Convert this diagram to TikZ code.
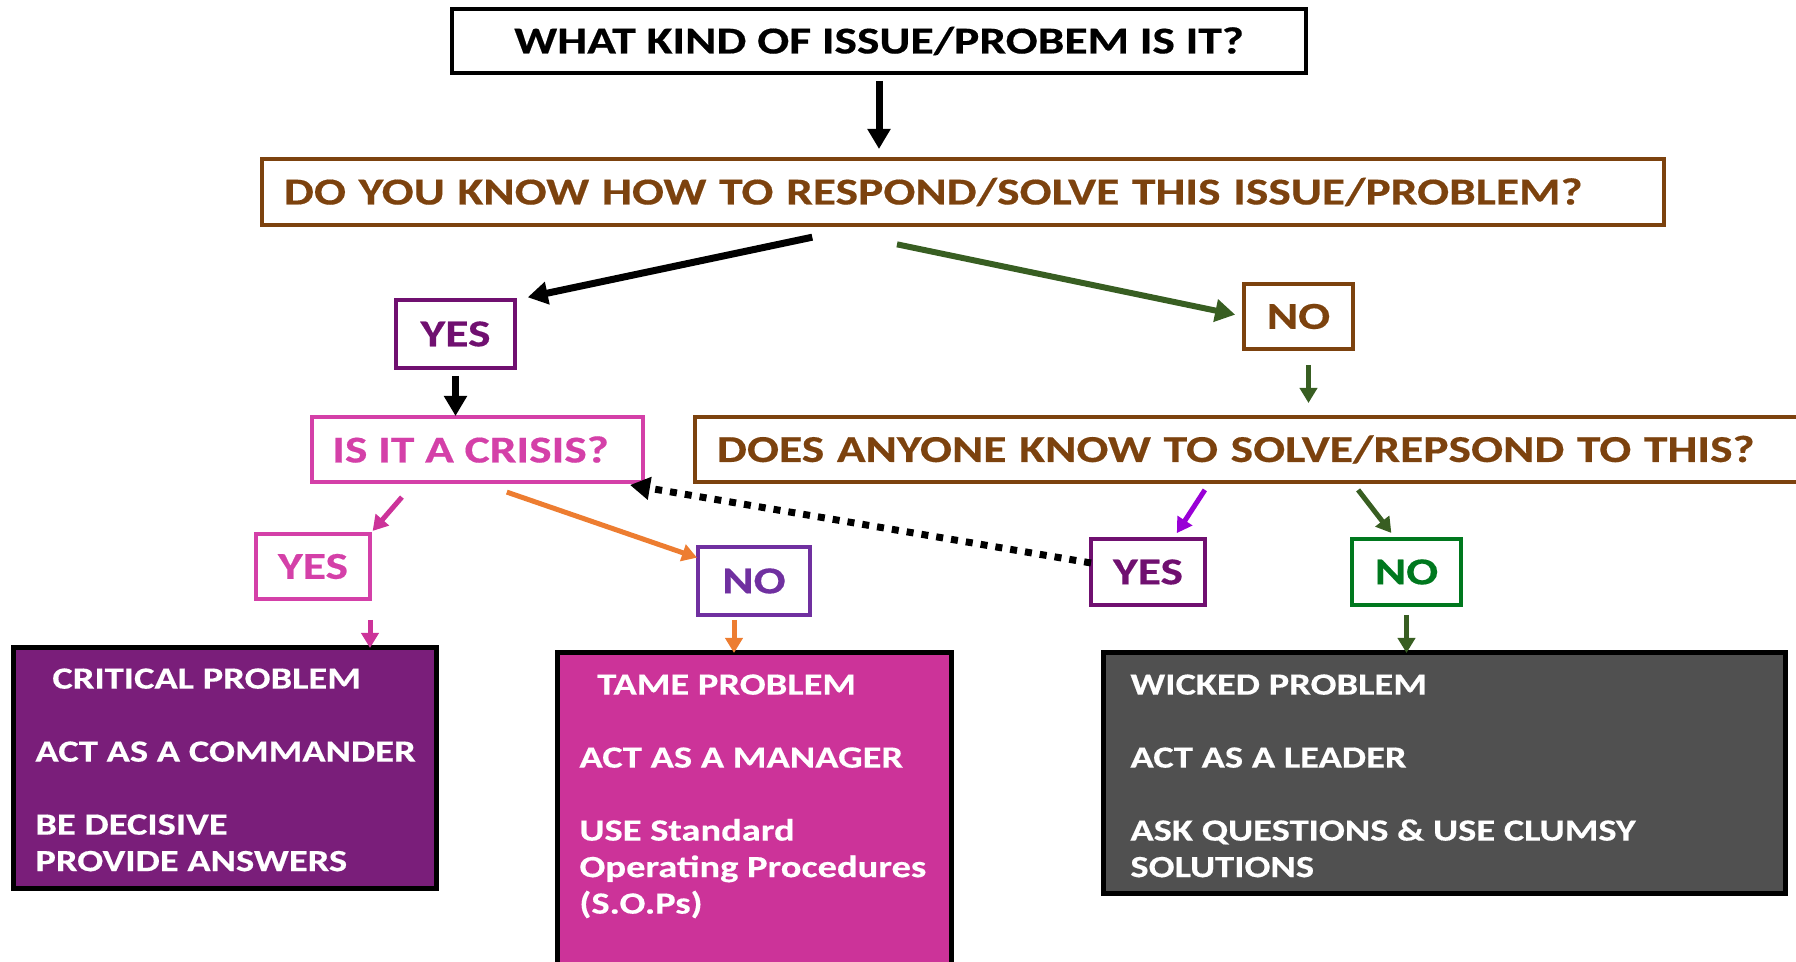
\documentclass[tikz,border=0pt]{standalone}
\usepackage{fontspec}
\setmainfont{Carlito}[FakeStretch=1.25,FakeBold=0.4]
\usetikzlibrary{arrows.meta,calc}
\definecolor{qbrown}{RGB}{124,66,14}
\definecolor{dkpurple}{RGB}{112,16,112}
\definecolor{qpink}{RGB}{212,64,168}
\definecolor{nopurple}{RGB}{112,48,160}
\definecolor{arrgreen}{RGB}{56,94,34}
\definecolor{nogreen}{RGB}{0,120,30}
\definecolor{arrviolet}{RGB}{153,0,214}
\definecolor{arrpink}{RGB}{204,51,153}
\definecolor{arrorange}{RGB}{237,125,49}
\definecolor{critfill}{RGB}{122,30,122}
\definecolor{tamefill}{RGB}{204,51,153}
\definecolor{wickfill}{RGB}{80,80,80}
\begin{document}
\begin{tikzpicture}[x=0.5pt,y=-0.5pt,
   qbox/.style={draw,line width=2pt,outer sep=0pt,inner sep=0pt,
      font=\fontsize{19}{23}\selectfont\bfseries},
   qleft/.style={qbox,anchor=west,align=left,inner xsep=11pt,minimum height=33pt},
   lab/.style={draw,line width=2pt,outer sep=0pt,inner sep=0pt,
      font=\fontsize{19}{23}\selectfont\bfseries},
   probbox/.style={draw=black,line width=2.5pt,outer sep=0pt,anchor=north west,inner sep=0pt},
   probtext/.style={text=white,anchor=north west,align=left,inner sep=0pt,
      font=\fontsize{15.4}{18.25}\selectfont\bfseries},
   bigarr/.style={line width=3.5pt,-{Triangle[length=10pt,width=11pt]}},
   smallarr/.style={line width=2.5pt,-{Triangle[length=7.5pt,width=8.5pt]}},
   dotarr/.style={line width=3.5pt,dash pattern=on 3.5pt off 4pt,-{Triangle[length=10pt,width=11pt]}}]
\clip (0,0) rectangle (1796,962);
\node[qbox,minimum width=427pt,minimum height=32pt] (kind) at (879,41) {WHAT KIND OF ISSUE/PROBEM IS IT?};
\node[qleft,draw=qbrown,text=qbrown,text width=679pt] (know) at (262,192) {DO YOU KNOW HOW TO RESPOND/SOLVE THIS ISSUE/PROBLEM?};
\node[lab,draw=dkpurple,text=dkpurple,minimum width=59.5pt,minimum height=34pt] (yesknow) at (455.5,334) {YES};
\node[lab,draw=qbrown,text=qbrown,minimum width=54.5pt,minimum height=32.5pt] (noknow) at (1298.5,316.5) {NO};
\node[qbox,draw=qpink,text=qpink,minimum width=165.5pt,minimum height=32.5pt] (crisis) at (477.5,449.5) {IS IT A CRISIS?\kern7pt};
\node[qleft,draw=qbrown,text=qbrown,text width=560pt,minimum height=32.5pt] (anyone) at (695,449.5) {DOES ANYONE KNOW TO SOLVE/REPSOND TO THIS?};
\node[lab,draw=qpink,text=qpink,minimum width=57pt,minimum height=32.5pt] (yescrisis) at (313,566.5) {YES};
\node[lab,draw=nopurple,text=nopurple,minimum width=56pt,minimum height=34pt] (nocrisis) at (754,581) {NO};
\node[lab,draw=dkpurple,text=dkpurple,minimum width=57pt,minimum height=33pt] (yesany) at (1148,572) {YES};
\node[lab,draw=nogreen,text=nogreen,minimum width=54.5pt,minimum height=33pt] (noany) at (1406.5,572) {NO};
\node[probbox,fill=critfill,minimum width=211.5pt,minimum height=120pt] (critical) at (13,648) {};
\node[probbox,fill=tamefill,minimum width=197pt,minimum height=168.5pt] (tame) at (557,653) {};
\node[probbox,fill=wickfill,minimum width=341pt,minimum height=120pt] (wicked) at (1103,653) {};
\node[probtext] (criticaltxt) at ($(critical.north west)+(22,20)$) {\hspace{8.5pt}CRITICAL PROBLEM\\[18.25pt]ACT AS A COMMANDER\\[18.25pt]BE DECISIVE\\PROVIDE ANSWERS};
\node[probtext] (tametxt) at ($(tame.north west)+(22,21)$) {\hspace{9pt}TAME PROBLEM\\[18.25pt]ACT AS A MANAGER\\[18.25pt]USE Standard\\Operating Procedures\\(S.O.Ps)};
\node[probtext] (wickedtxt) at ($(wicked.north west)+(27,21)$) {WICKED PROBLEM\\[18.25pt]ACT AS A LEADER\\[18.25pt]ASK QUESTIONS \& USE CLUMSY\\SOLUTIONS};
\draw[bigarr,shorten <=4pt,shorten >=5pt] (kind.south) -- (kind.south |- know.north);
\draw[bigarr,shorten <=29.5pt,shorten >=6.5pt] ([xshift=-46.5pt]know.south) -- (yesknow.north east);
\draw[bigarr,arrgreen,line width=3pt,shorten <=47.5pt,shorten >=4.5pt] ([xshift=-79.5pt]know.south) -- (noknow.west);
\draw[bigarr,shorten <=4pt,shorten >=0.5pt] (yesknow.south) -- (yesknow.south |- crisis.north);
\draw[smallarr,arrgreen,shorten <=8pt,shorten >=7pt] ([xshift=5pt]noknow.south) -- ($(noknow.south |- anyone.north)+(10,0)$);
\draw[smallarr,arrpink,shorten <=10pt,shorten >=2pt] ($(crisis.south)+(-62.5,0)$) -- (yescrisis.north east);
\draw[smallarr,arrorange,shorten <=15.5pt,shorten >=0.5pt] (crisis.south) -- ($(nocrisis.north west)+(0,11)$);
\draw[dotarr] ($(yesany.west)+(0,-9)$) -- ($(crisis.south east)+(-13,3)$);
\draw[smallarr,arrviolet,shorten <=4.7pt,shorten >=3.5pt] ($(yesany.north east |- anyone.south)+(5,0)$) -- ($(yesany.north east)+(-32,0)$);
\draw[smallarr,arrgreen,shorten <=5pt,shorten >=3.8pt] (noany.north west |- anyone.south) -- ($(noany.north)+(-10.5,0)$);
\draw[smallarr,arrpink,shorten <=10.5pt] (yescrisis.south east) -- (yescrisis.south east |- critical.north);
\draw[smallarr,arrorange,shorten <=2.5pt] ($(nocrisis.south)+(-20,0)$) -- ($(tame.north)+(-20,0)$);
\draw[smallarr,arrgreen,shorten <=5pt] (noany.south) -- (noany.south |- wicked.north);
\end{tikzpicture}
\end{document}
